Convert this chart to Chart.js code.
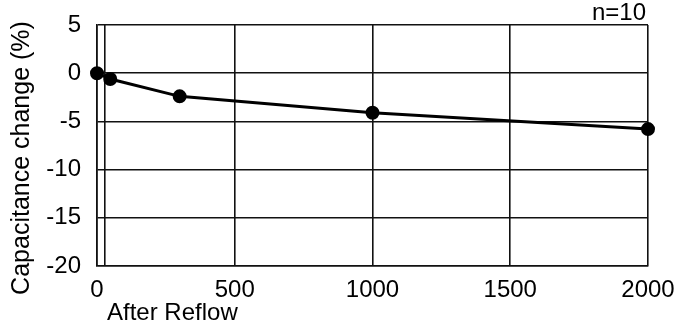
<!DOCTYPE html>
<html>
<head>
<meta charset="utf-8">
<script src="https://cdn.jsdelivr.net/npm/chart.js@4/dist/chart.umd.min.js"></script>
<style>
html,body{margin:0;padding:0;background:#fff;}
#wrap{width:678px;height:325px;position:relative;}
</style>
</head>
<body>
<div id="wrap"><canvas id="c" width="678" height="325"></canvas></div>
<script>
// Data
const hours = [0, 48, 300, 1000, 2000];
const capChange = [0, -0.6, -2.4, -4.1, -5.8];
const xTicks = [0, 28, 500, 1000, 1500, 2000];
const xTickLabels = ['0', '', '500', '1000', '1500', '2000'];
const yTicks = [5, 0, -5, -10, -15, -20];
const yTitle = 'Capacitance change (%)';
const xTitle = 'After Reflow';
const note = 'n=10';

const FONT = 'Liberation Sans, Arial, Helvetica, sans-serif';

const textPlugin = {
  id: 'texts',
  afterDraw(chart) {
    const ctx = chart.ctx;
    const a = chart.chartArea;
    ctx.save();
    ctx.fillStyle = '#000';
    ctx.font = '24px ' + FONT;
    ctx.textAlign = 'right';
    ctx.textBaseline = 'alphabetic';
    ctx.fillText(note, a.right - 2, 20);
    ctx.textAlign = 'left';
    ctx.fillText(xTitle, a.left + 10, 320);
    ctx.font = '25px ' + FONT;
    ctx.translate(22, 158);
    ctx.rotate(-Math.PI / 2);
    ctx.textAlign = 'center';
    ctx.textBaseline = 'middle';
    ctx.fillText(yTitle, 0, 0);
    ctx.restore();
  }
};

new Chart(document.getElementById('c'), {
  type: 'scatter',
  data: {
    datasets: [{
      data: hours.map((h, i) => ({x: h, y: capChange[i]})),
      showLine: true,
      borderColor: '#000',
      backgroundColor: '#000',
      borderWidth: 3,
      pointRadius: 5.5,
      pointHoverRadius: 5.5,
      tension: 0,
      clip: false
    }]
  },
  options: {
    responsive: false,
    animation: false,
    events: [],
    layout: {padding: {top: 25, right: 30, left: 0, bottom: 0}},
    plugins: {legend: {display: false}, tooltip: {enabled: false}},
    scales: {
      x: {
        type: 'linear',
        min: 0, max: 2000,
        afterBuildTicks: s => { s.ticks = xTicks.map(v => ({value: v})); },
        afterFit: s => { s.height = 59; s.paddingLeft = 0; s.paddingRight = 0; },
        grid: {color: '#111', lineWidth: 1.6, drawTicks: false},
        border: {color: '#111', width: 1.6},
        ticks: {
          padding: 10,
          maxRotation: 0,
          autoSkip: false,
          color: '#000',
          font: {family: FONT, size: 24},
          callback: (v) => { const i = xTicks.indexOf(v); return i >= 0 ? xTickLabels[i] : ''; }
        }
      },
      y: {
        min: -20, max: 5,
        afterBuildTicks: s => { s.ticks = yTicks.map(v => ({value: v})); },
        afterFit: s => { s.width = 97; s.paddingTop = 0; s.paddingBottom = 0; },
        grid: {color: '#111', lineWidth: 1.6, drawTicks: false},
        border: {color: '#111', width: 1.6},
        ticks: {
          padding: 16,
          color: '#000',
          font: {family: FONT, size: 24},
          callback: v => String(v)
        }
      }
    }
  },
  plugins: [textPlugin]
});
</script>
</body>
</html>
